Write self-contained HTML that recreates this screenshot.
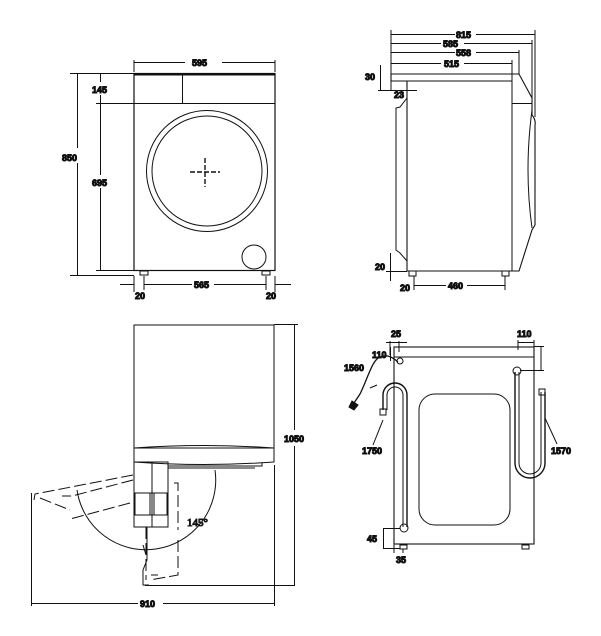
<!DOCTYPE html>
<html><head><meta charset="utf-8"><style>
html,body{margin:0;padding:0;background:#fff;}
svg{display:block;}
text{font-family:"Liberation Sans",sans-serif;font-size:9px;font-weight:bold;fill:#111;}
.s{font-family:"Liberation Serif",serif;font-weight:normal;font-size:11px;}
</style></head><body>
<svg width="601" height="636" viewBox="0 0 601 636" xmlns="http://www.w3.org/2000/svg" fill="none" stroke="#111" stroke-width="1">
<!-- ========== FRONT VIEW ========== -->
<rect x="134" y="73.5" width="141" height="197" stroke-width="1.2"/>
<line x1="134" y1="74.5" x2="275" y2="74.5" stroke-width="2"/>
<line x1="134" y1="103.5" x2="275" y2="103.5"/>
<line x1="182.5" y1="74" x2="182.5" y2="103"/>
<circle cx="207" cy="171" r="60.5"/>
<circle cx="207" cy="171" r="55"/>
<g stroke-dasharray="5,2" stroke-width="1.4"><line x1="190" y1="172" x2="220" y2="172"/><line x1="205" y1="158" x2="205" y2="187"/></g>
<circle cx="254" cy="257" r="12"/>
<rect x="140" y="271" width="8" height="4"/><rect x="262" y="271" width="8" height="4"/>
<!-- dims -->
<line x1="134" y1="62.5" x2="185" y2="62.5"/><line x1="222" y1="62.5" x2="275" y2="62.5"/>
<line x1="134" y1="60" x2="134" y2="72"/><line x1="275" y1="60" x2="275" y2="72"/>
<text x="192" y="66">595</text>
<line x1="70" y1="73.5" x2="134" y2="73.5"/><line x1="70" y1="275.5" x2="134" y2="275.5"/>
<line x1="77.5" y1="73" x2="77.5" y2="148"/><line x1="77.5" y1="163" x2="77.5" y2="276"/>
<text x="62" y="161">850</text>
<line x1="100.5" y1="73" x2="100.5" y2="82"/><line x1="100.5" y1="95" x2="100.5" y2="175"/><line x1="100.5" y1="188" x2="100.5" y2="271"/>
<line x1="96" y1="103.5" x2="134" y2="103.5"/><line x1="96" y1="270.5" x2="134" y2="270.5"/>
<text x="92" y="93">145</text><text x="92" y="186">695</text>
<line x1="120" y1="284.5" x2="134" y2="284.5"/><line x1="144" y1="284.5" x2="192" y2="284.5"/><line x1="214" y1="284.5" x2="266" y2="284.5"/><line x1="275" y1="284.5" x2="291" y2="284.5"/>
<line x1="134" y1="276" x2="134" y2="292"/><line x1="144" y1="276" x2="144" y2="290"/><line x1="266" y1="276" x2="266" y2="290"/><line x1="275" y1="276" x2="275" y2="292"/>
<text x="194" y="288">565</text><text x="135" y="299">20</text><text x="266" y="299">20</text>
<!-- ========== SIDE VIEW ========== -->
<path d="M391 74 H519 L532 98 V115 Q536 120 535 125 V225 L532 230 L519 271 H407 V81 H391 Z" stroke-width="1.1"/>
<line x1="407" y1="81" x2="512" y2="81"/>
<line x1="512" y1="74" x2="512" y2="271"/>
<line x1="512" y1="103.5" x2="532" y2="103.5"/>
<path d="M532 110 Q524 170 532 228"/>
<path d="M407 98 L400 107 L396 108 V250 L400 253 L407 261"/>
<rect x="409" y="271" width="7" height="5"/><rect x="502" y="271" width="7" height="5"/>
<line x1="391" y1="30" x2="391" y2="90"/>
<line x1="535" y1="30" x2="535" y2="117"/><line x1="532" y1="40" x2="532" y2="98"/><line x1="519" y1="50" x2="519" y2="74"/><line x1="512" y1="60" x2="512" y2="74"/>
<line x1="391" y1="34.5" x2="455" y2="34.5"/><line x1="476" y1="34.5" x2="535" y2="34.5"/><text x="456" y="38">815</text>
<line x1="391" y1="43.5" x2="441" y2="43.5"/><line x1="464" y1="43.5" x2="532" y2="43.5"/><text x="443" y="47">585</text>
<line x1="391" y1="52.5" x2="455" y2="52.5"/><line x1="476" y1="52.5" x2="519" y2="52.5"/><text x="456" y="56">558</text>
<line x1="391" y1="63.5" x2="441" y2="63.5"/><line x1="464" y1="63.5" x2="512" y2="63.5"/><text x="444" y="67">515</text>
<line x1="380.5" y1="65" x2="380.5" y2="90"/><line x1="378" y1="90.5" x2="417" y2="90.5"/>
<text x="365" y="80">30</text><text x="394" y="98">23</text>
<line x1="390.5" y1="253" x2="390.5" y2="281"/><line x1="386" y1="271.5" x2="407" y2="271.5"/>
<text x="375" y="270">20</text><text x="400" y="291">20</text>
<line x1="414" y1="276" x2="414" y2="290"/><line x1="505" y1="276" x2="505" y2="290"/>
<line x1="414" y1="285.5" x2="446" y2="285.5"/><line x1="467" y1="285.5" x2="505" y2="285.5"/><text x="448" y="289">460</text>
<!-- ========== DOOR OPEN VIEW ========== -->
<rect x="134" y="325" width="140" height="123"/>
<path d="M134 448 Q204 443 274 448"/>
<path d="M134 448 V462 Q204 467 274 462 V448"/>
<rect x="134" y="462" width="34" height="65"/>
<line x1="152" y1="462" x2="152" y2="527"/>
<line x1="134" y1="493" x2="168" y2="493"/>
<rect x="135" y="493" width="15" height="22"/><rect x="154" y="493" width="13" height="22"/>
<line x1="134" y1="515" x2="168" y2="515"/>
<path d="M168 466 H262 V463"/><line x1="168" y1="468" x2="255" y2="468"/>
<path d="M215 470 A68 68 0 0 1 77 490"/>
<g stroke-dasharray="12,4">
<path d="M133 475 L35 494 L34 500"/>
<path d="M40 498 L70 510"/>
<path d="M133 480 L72 496 L62 496"/>
<path d="M130 503 L70 519"/>
<path d="M174 483 H178 V530"/>
<path d="M178 540 V575 L150 580"/>
<path d="M146 527 V580"/>
<path d="M143 545 L146 555"/>
</g>
<path d="M147 527 V560 L143 570 V585 H149"/>
<line x1="151" y1="575" x2="158" y2="575"/>
<text class="s" x="187" y="526">145°</text>
<line x1="145" y1="585.5" x2="294" y2="585.5"/>
<line x1="274" y1="324.5" x2="298" y2="324.5"/>
<line x1="294.5" y1="325" x2="294.5" y2="430"/><line x1="294.5" y1="446" x2="294.5" y2="586"/>
<text x="284" y="442">1050</text>
<line x1="31.5" y1="493" x2="31.5" y2="606"/><line x1="274.5" y1="465" x2="274.5" y2="606"/>
<line x1="31" y1="603.5" x2="138" y2="603.5"/><line x1="163" y1="603.5" x2="274" y2="603.5"/>
<text x="140" y="607">910</text>
<!-- ========== BACK VIEW ========== -->
<rect x="394" y="347" width="140" height="197" stroke-width="1.1"/>
<line x1="394" y1="357" x2="534" y2="357"/>
<rect x="419" y="394" width="91" height="131" rx="16"/>
<path d="M383 410 V395 A12 12 0 0 1 407 395 V527" stroke-width="1.4"/>
<path d="M387 410 V395 A8 8 0 0 1 403 395 V527" stroke-width="1"/>
<circle cx="404" cy="528" r="4"/>
<rect x="380" y="409" width="6" height="6"/>
<path d="M515 372 V463 A15 15 0 0 0 545 463 V392" stroke-width="1.4"/>
<path d="M519 372 V463 A11 11 0 0 0 541 463 V392"/>
<circle cx="517" cy="371" r="4"/>
<rect x="539" y="389" width="6" height="6"/>
<circle cx="400" cy="361" r="3"/>
<path d="M398 362 C390 355 386 355 380 357 C372 360 368 378 360 394 L354 403" stroke-width="1.3"/>
<path d="M352 401 L358 405 L354 410 L349 407 Z" fill="#111"/>
<rect x="400" y="545" width="7" height="4"/><rect x="522" y="545" width="7" height="4"/>
<line x1="390" y1="341" x2="390" y2="355"/><line x1="399" y1="341" x2="399" y2="352"/><line x1="386" y1="342.5" x2="407" y2="342.5"/>
<text x="391" y="337">25</text>
<line x1="390.5" y1="347" x2="390.5" y2="361"/><text x="372" y="358">110</text>
<text x="344" y="371">1560</text>
<line x1="377" y1="385" x2="370" y2="388"/>
<line x1="383" y1="420" x2="373" y2="445"/><text x="362" y="454">1750</text>
<line x1="518" y1="342.5" x2="534" y2="342.5"/><line x1="518" y1="340" x2="518" y2="350"/><line x1="534" y1="340" x2="534" y2="350"/>
<text x="517" y="337">110</text>
<line x1="541" y1="347" x2="541" y2="370"/><line x1="534" y1="346.5" x2="544" y2="346.5"/><line x1="520" y1="370.5" x2="544" y2="370.5"/>
<line x1="545" y1="418" x2="557" y2="444"/><text x="551" y="454">1570</text>
<line x1="383" y1="528.5" x2="400" y2="528.5"/><line x1="383.5" y1="528" x2="383.5" y2="549"/><line x1="383" y1="548.5" x2="400" y2="548.5"/>
<text x="367" y="542">45</text>
<line x1="394" y1="544" x2="394" y2="553"/><line x1="403" y1="549" x2="403" y2="553"/>
<text x="396" y="563">35</text>
</svg>
</body></html>
